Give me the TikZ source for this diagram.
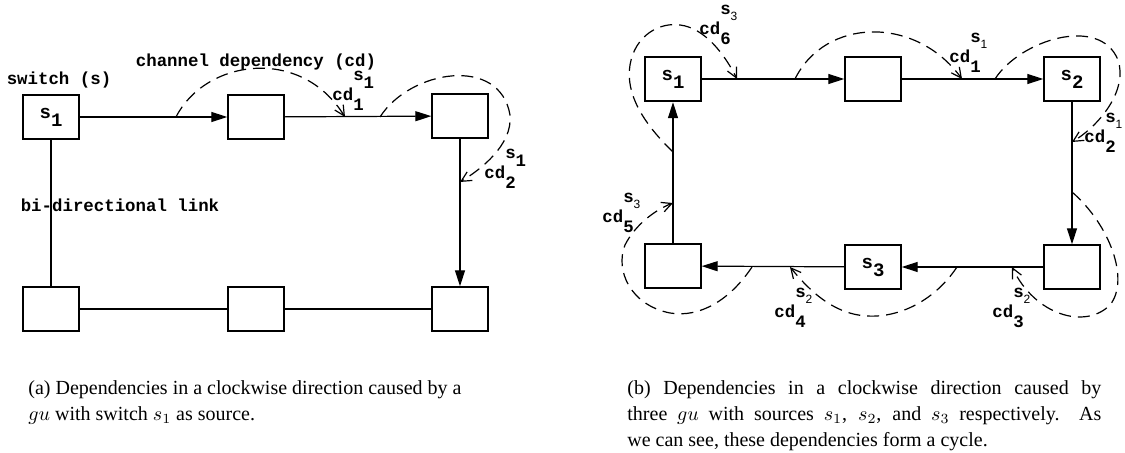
\documentclass[tikz,border=0pt]{standalone}
\usepackage{fontspec}
\setmainfont{Liberation Serif}
\setmonofont{Liberation Mono}
\newfontfamily\subsans{Liberation Sans}
\usetikzlibrary{arrows.meta}

% switch name with its index
\newcommand{\swlbl}[1]{s\raisebox{-4pt}{#1}}
% channel dependency labels
\newcommand{\cdlbl}[2]{cd\rlap{\raisebox{-5pt}{#1}}\raisebox{10pt}{s\raisebox{-4pt}{#2}}}
\newcommand{\cdlblb}[2]{cd\rlap{\raisebox{-5pt}{#1}}\raisebox{10pt}{s\raisebox{-3pt}{\subsans\mdseries\fontsize{6}{6}\selectfont #2}}}

\begin{document}
\begin{tikzpicture}[x=0.5pt,y=-0.5pt,
    sbox/.style={draw,line width=0.7pt,minimum width=28pt,minimum height=22pt,inner sep=0pt,
      font=\ttfamily\bfseries\fontsize{9.5}{9.5}\selectfont},
    srcbox/.style={sbox,line width=1.2pt},
    link/.style={line width=0.6pt},
    flow/.style={link,-{Triangle[length=8pt,width=5pt]}},
    dep/.style={line width=0.6pt,dash pattern=on 6pt off 3.5pt,-{Straight Barb[length=5pt,width=5pt]}},
    lbl/.style={font=\ttfamily\bfseries\fontsize{8.7}{9}\selectfont,inner sep=0pt},
    cdl/.style={lbl,anchor=base west},
    captext/.style={font=\fontsize{10}{13}\selectfont,inner sep=0pt,anchor=north west}]

\useasboundingbox (0,0) rectangle (1125,453);

% (a) one source
\node[srcbox] (a1) at (51,117) {\swlbl{1}};
\node[sbox] (a2) at (256,117) {};
\node[sbox] (a3) at (460,116) {};
\node[sbox] (a4) at (51,309) {};
\node[sbox] (a5) at (256,309) {};
\node[sbox] (a6) at (460,309) {};

\draw[flow] (a1) -- (a2);
\draw[flow] (a2) -- (a3);
\draw[flow] (a3) -- (a6);
\draw[link] (a1) -- (a4);
\draw[link] (a4) -- (a5);
\draw[link] (a5) -- (a6);

\coordinate (pa1) at (176,117);
\coordinate (qa1) at (345,117);
\coordinate (pa2) at (380,117);
\coordinate (qa2) at (460,182);
\draw[dep] (pa1) .. controls (205,60) and (300,45) .. (qa1);
\draw[dep] (pa2) .. controls (410,70) and (500,55) .. (510,115) .. controls (513,145) and (480,170) .. (qa2);

\node[lbl] (sw) at (59,80) {switch (s)};
\node[lbl] (chd) at (256,62) {channel dependency (cd)};
\node[lbl] (bdl) at (120,205) {bi-directional link};
\node[cdl] (da1) at (332,101) {\cdlbl{1}{1}};
\node[cdl] (da2) at (484,179) {\cdlbl{2}{1}};

\node[captext,align=left] (capa) at (28,380)
  {(a) Dependencies in a clockwise direction caused by a\\ $gu$ with switch $s_1$ as source.};

% (b) three sources, cycle
\node[srcbox] (b1) at (673,79) {\swlbl{1}};
\node[sbox] (b2) at (873,79) {};
\node[sbox] (b3) at (1072,79) {\swlbl{2}};
\node[sbox] (b4) at (1072,267) {};
\node[sbox] (b5) at (873,267) {\swlbl{3}};
\node[sbox] (b6) at (673,266) {};

\draw[flow] (b1) -- (b2);
\draw[flow] (b2) -- (b3);
\draw[flow] (b3) -- (b4);
\draw[flow] (b4) -- (b5);
\draw[flow] (b5) -- (b6);
\draw[flow] (b6) -- (b1);

\coordinate (pb1) at (795,79);
\coordinate (qb1) at (962,79);
\coordinate (pb2) at (995,79);
\coordinate (qb2) at (1072,142);
\coordinate (pb3) at (1072,192);
\coordinate (qb3) at (1012,267);
\coordinate (pb4) at (957,267);
\coordinate (qb4) at (790,267);
\coordinate (pb5) at (752,267);
\coordinate (qb5) at (673,203);
\coordinate (pb6) at (673,152);
\coordinate (qb6) at (737,79);

\draw[dep] (pb1) .. controls (825,18) and (915,15) .. (qb1);
\draw[dep] (pb2) .. controls (1020,40) and (1100,15) .. (1118,60) .. controls (1128,90) and (1100,125) .. (qb2);
\draw[dep] (pb3) .. controls (1110,225) and (1130,280) .. (1110,305) .. controls (1085,330) and (1035,315) .. (qb3);
\draw[dep] (pb4) .. controls (935,300) and (900,318) .. (867,316) .. controls (830,314) and (805,285) .. (qb4);
\draw[dep] (pb5) .. controls (730,300) and (700,318) .. (670,313) .. controls (630,305) and (615,270) .. (625,245) .. controls (635,225) and (655,210) .. (qb5);
\draw[dep] (pb6) .. controls (645,125) and (625,95) .. (630,65) .. controls (635,35) and (660,22) .. (680,25) .. controls (705,28) and (725,55) .. (qb6);

\node[cdl] (db6) at (699,35) {\cdlblb{6}{3}};
\node[cdl] (db1) at (949,63) {\cdlblb{1}{1}};
\node[cdl] (db2) at (1084,143) {\cdlblb{2}{1}};
\node[cdl] (db3) at (992,318) {\cdlblb{3}{2}};
\node[cdl] (db4) at (774,318) {\cdlblb{4}{2}};
\node[cdl] (db5) at (602,223) {\cdlblb{5}{3}};

\node[captext,align=justify,text width=237pt] (capb) at (627,380)
  {(b) Dependencies in a clockwise direction caused by\linebreak three $gu$ with sources $s_1$, $s_2$, and $s_3$ respectively.\ \ As\linebreak we can see, these dependencies form a cycle.};
\end{tikzpicture}
\end{document}
